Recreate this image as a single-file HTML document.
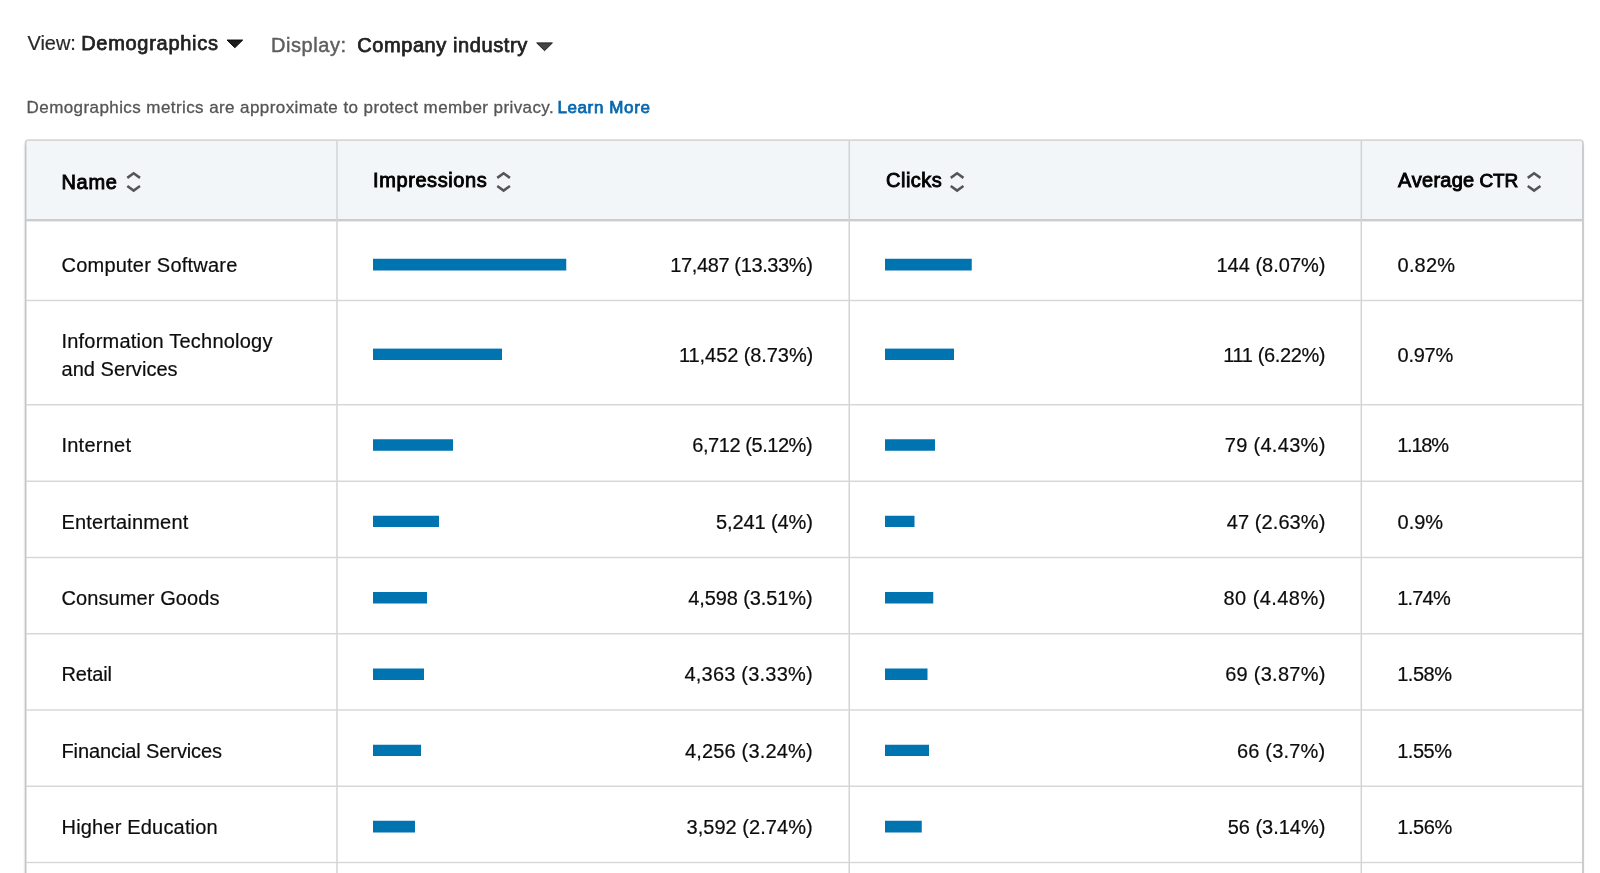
<!DOCTYPE html><html><head><meta charset="utf-8"><title>Demographics</title><style>
html,body{margin:0;padding:0;background:#fff;}
body{width:1600px;height:873px;overflow:hidden;position:relative;will-change:transform;font-family:"Liberation Sans",sans-serif;color:#0d0d0d;}
.t{position:absolute;white-space:nowrap;font-size:20px;line-height:24px;-webkit-text-stroke:0.2px currentColor;}
.b{-webkit-text-stroke:0.75px currentColor;}
.h{-webkit-text-stroke:0.9px currentColor;font-kerning:none;}
.m{-webkit-text-stroke:0.45px currentColor;}
.n{-webkit-text-stroke:0.3px currentColor;}
p{margin:0;}
svg{position:absolute;overflow:visible;}
</style></head><body>
<div style="position:absolute;left:25px;top:140px;width:1558px;height:760px;border-radius:4px 4px 0 0;box-shadow:0 1.5px 3px rgba(0,0,0,0.16);"></div>
<svg style="left:0;top:0" width="1600" height="873" viewBox="0 0 1600 873"><defs><linearGradient id="bg" gradientUnits="userSpaceOnUse" x1="0" y1="139" x2="0" y2="147"><stop offset="0" stop-color="#dadada"/><stop offset="1" stop-color="#c5c5c5"/></linearGradient></defs><path d="M26.5 900 V143.2 Q26.5 141 28.7 141 H1579.9 Q1582.1 141 1582.1 143.2 V900 Z" fill="#fff"/><path d="M26.5 219.5 V143.2 Q26.5 141 28.7 141 H1579.9 Q1582.1 141 1582.1 143.2 V219.5 Z" fill="#f3f6f8"/><path d="M25.65 900 V142.9 Q25.65 140.1 28.45 140.1 H1580.15 Q1582.95 140.1 1582.95 142.9 V900" fill="none" stroke="url(#bg)" stroke-width="1.7"/><rect x="26" y="219.0" width="1556" height="2.4" fill="#cbccce"/><rect x="336.25" y="141" width="1.5" height="740" fill="#d3d3d5"/><rect x="848.50" y="141" width="1.5" height="740" fill="#d3d3d5"/><rect x="1360.55" y="141" width="1.5" height="740" fill="#d3d3d5"/><rect x="26" y="299.80" width="1556" height="1.4" fill="#d6d6d6"/><rect x="26" y="404.05" width="1556" height="1.4" fill="#d6d6d6"/><rect x="26" y="480.55" width="1556" height="1.4" fill="#d6d6d6"/><rect x="26" y="556.80" width="1556" height="1.4" fill="#d6d6d6"/><rect x="26" y="633.05" width="1556" height="1.4" fill="#d6d6d6"/><rect x="26" y="709.30" width="1556" height="1.4" fill="#d6d6d6"/><rect x="26" y="785.55" width="1556" height="1.4" fill="#d6d6d6"/><rect x="26" y="861.80" width="1556" height="1.4" fill="#d6d6d6"/><rect x="373" y="258.75" width="193.25" height="11.75" fill="#0073b1"/><rect x="885" y="258.75" width="86.75" height="11.75" fill="#0073b1"/><rect x="373" y="348.6" width="129" height="11.40" fill="#0073b1"/><rect x="885" y="348.6" width="69" height="11.40" fill="#0073b1"/><rect x="373" y="439.25" width="80" height="11.50" fill="#0073b1"/><rect x="885" y="439.25" width="50" height="11.50" fill="#0073b1"/><rect x="373" y="515.75" width="66" height="11.25" fill="#0073b1"/><rect x="885" y="515.75" width="29.5" height="11.25" fill="#0073b1"/><rect x="373" y="592" width="54" height="11.50" fill="#0073b1"/><rect x="885" y="592" width="48.25" height="11.50" fill="#0073b1"/><rect x="373" y="668.5" width="51" height="11.50" fill="#0073b1"/><rect x="885" y="668.5" width="42.5" height="11.50" fill="#0073b1"/><rect x="373" y="744.75" width="48" height="11.25" fill="#0073b1"/><rect x="885" y="744.75" width="44" height="11.25" fill="#0073b1"/><rect x="373" y="820.75" width="42" height="11.75" fill="#0073b1"/><rect x="885" y="820.75" width="36.75" height="11.75" fill="#0073b1"/><path d="M227.00 40.05 L242.70 40.05 L234.85 47.70 Z" fill="#1c1c1c" stroke="#0a0a0a" stroke-width="1" stroke-linejoin="round"/><path d="M536.70 42.90 L552.40 42.90 L544.55 50.70 Z" fill="#444" stroke="#1e1e1e" stroke-width="1" stroke-linejoin="round"/><path transform="translate(125.65 170)" d="M1.65 7.9 L8 3.3 L14.35 7.9 M1.65 16.0 L8 20.6 L14.35 16.0" fill="none" stroke="#555" stroke-width="2.55"/><path transform="translate(495.60 170)" d="M1.65 7.9 L8 3.3 L14.35 7.9 M1.65 16.0 L8 20.6 L14.35 16.0" fill="none" stroke="#555" stroke-width="2.55"/><path transform="translate(949.10 170)" d="M1.65 7.9 L8 3.3 L14.35 7.9 M1.65 16.0 L8 20.6 L14.35 16.0" fill="none" stroke="#555" stroke-width="2.55"/><path transform="translate(1526.10 170)" d="M1.65 7.9 L8 3.3 L14.35 7.9 M1.65 16.0 L8 20.6 L14.35 16.0" fill="none" stroke="#555" stroke-width="2.55"/></svg>
<div class="controls">
<span class="t" style="left:27.50px;top:30.50px;letter-spacing:-0.050px;color:#2a2a2a;">View:</span>
<span class="t b" style="left:81.20px;top:30.50px;letter-spacing:0.709px;color:#222;">Demographics</span>
<span class="t m" style="left:271.00px;top:33.00px;letter-spacing:0.571px;color:#5e5e5e;">Display:</span>
<span class="t b" style="left:357.20px;top:33.00px;letter-spacing:0.587px;color:#222;">Company industry</span>
</div>
<p class="note">
<span class="t n" style="left:26.60px;top:95.60px;letter-spacing:0.416px;font-size:17px;color:#555;">Demographics metrics are approximate to protect member privacy.</span>
<span class="t b" style="left:557.40px;top:95.60px;letter-spacing:0.622px;font-size:17px;color:#0868b0;">Learn More</span>
</p>
<div role="table" class="tbl"><div role="row" class="thead">
<span class="t h" style="left:61.50px;top:169.50px;letter-spacing:0.667px;color:#000;">Name</span>
<span class="t h" style="left:373.00px;top:168.00px;letter-spacing:0.600px;color:#000;">Impressions</span>
<span class="t h" style="left:886.00px;top:168.00px;letter-spacing:0.500px;color:#000;">Clicks</span>
<span class="t h" style="left:1398.10px;top:168.00px;letter-spacing:0.275px;color:#000;">Average</span>
<span class="t h" style="left:1479.40px;top:169.00px;letter-spacing:-0.150px;font-size:19px;color:#000;">CTR</span>
</div>
<div role="row" class="row">
<span class="t" style="left:61.50px;top:253.00px;letter-spacing:0.219px;">Computer Software</span>
<span class="t" style="left:670.25px;top:253.00px;letter-spacing:-0.375px;">17,487 (13.33%)</span>
<span class="t" style="left:1216.50px;top:253.00px;letter-spacing:0.000px;">144 (8.07%)</span>
<span class="t" style="left:1397.60px;top:253.00px;letter-spacing:0.163px;">0.82%</span>
</div>
<div role="row" class="row">
<span class="t" style="left:61.40px;top:329.25px;letter-spacing:0.219px;">Information Technology</span>
<span class="t" style="left:61.50px;top:356.75px;letter-spacing:0.045px;">and Services</span>
<span class="t" style="left:679.00px;top:342.50px;letter-spacing:-0.077px;">11,452 (8.73%)</span>
<span class="t" style="left:1223.25px;top:342.50px;letter-spacing:-0.375px;">111 (6.22%)</span>
<span class="t" style="left:1397.60px;top:342.50px;letter-spacing:-0.275px;">0.97%</span>
</div>
<div role="row" class="row">
<span class="t" style="left:61.40px;top:433.00px;letter-spacing:0.264px;">Internet</span>
<span class="t" style="left:692.25px;top:433.00px;letter-spacing:-0.438px;">6,712 (5.12%)</span>
<span class="t" style="left:1224.75px;top:433.00px;letter-spacing:0.306px;">79 (4.43%)</span>
<span class="t" style="left:1397.20px;top:433.00px;letter-spacing:-1.238px;">1.18%</span>
</div>
<div role="row" class="row">
<span class="t" style="left:61.50px;top:509.50px;letter-spacing:0.188px;">Entertainment</span>
<span class="t" style="left:716.00px;top:509.50px;letter-spacing:-0.111px;">5,241 (4%)</span>
<span class="t" style="left:1226.75px;top:509.50px;letter-spacing:0.083px;">47 (2.63%)</span>
<span class="t" style="left:1397.60px;top:509.50px;letter-spacing:-0.033px;">0.9%</span>
</div>
<div role="row" class="row">
<span class="t" style="left:61.50px;top:585.50px;letter-spacing:0.096px;">Consumer Goods</span>
<span class="t" style="left:688.25px;top:585.50px;letter-spacing:-0.104px;">4,598 (3.51%)</span>
<span class="t" style="left:1223.50px;top:585.50px;letter-spacing:0.444px;">80 (4.48%)</span>
<span class="t" style="left:1397.20px;top:585.50px;letter-spacing:-0.800px;">1.74%</span>
</div>
<div role="row" class="row">
<span class="t" style="left:61.50px;top:662.00px;letter-spacing:-0.150px;">Retail</span>
<span class="t" style="left:684.50px;top:662.00px;letter-spacing:0.208px;">4,363 (3.33%)</span>
<span class="t" style="left:1225.25px;top:662.00px;letter-spacing:0.250px;">69 (3.87%)</span>
<span class="t" style="left:1397.20px;top:662.00px;letter-spacing:-0.488px;">1.58%</span>
</div>
<div role="row" class="row">
<span class="t" style="left:61.50px;top:738.50px;letter-spacing:-0.103px;">Financial Services</span>
<span class="t" style="left:685.00px;top:738.50px;letter-spacing:0.167px;">4,256 (3.24%)</span>
<span class="t" style="left:1237.00px;top:738.50px;letter-spacing:0.188px;">66 (3.7%)</span>
<span class="t" style="left:1397.20px;top:738.50px;letter-spacing:-0.488px;">1.55%</span>
</div>
<div role="row" class="row">
<span class="t" style="left:61.50px;top:814.75px;letter-spacing:0.183px;">Higher Education</span>
<span class="t" style="left:686.50px;top:814.75px;letter-spacing:0.042px;">3,592 (2.74%)</span>
<span class="t" style="left:1227.75px;top:814.75px;letter-spacing:-0.028px;">56 (3.14%)</span>
<span class="t" style="left:1397.20px;top:814.75px;letter-spacing:-0.425px;">1.56%</span>
</div>
</div>
</body></html>
